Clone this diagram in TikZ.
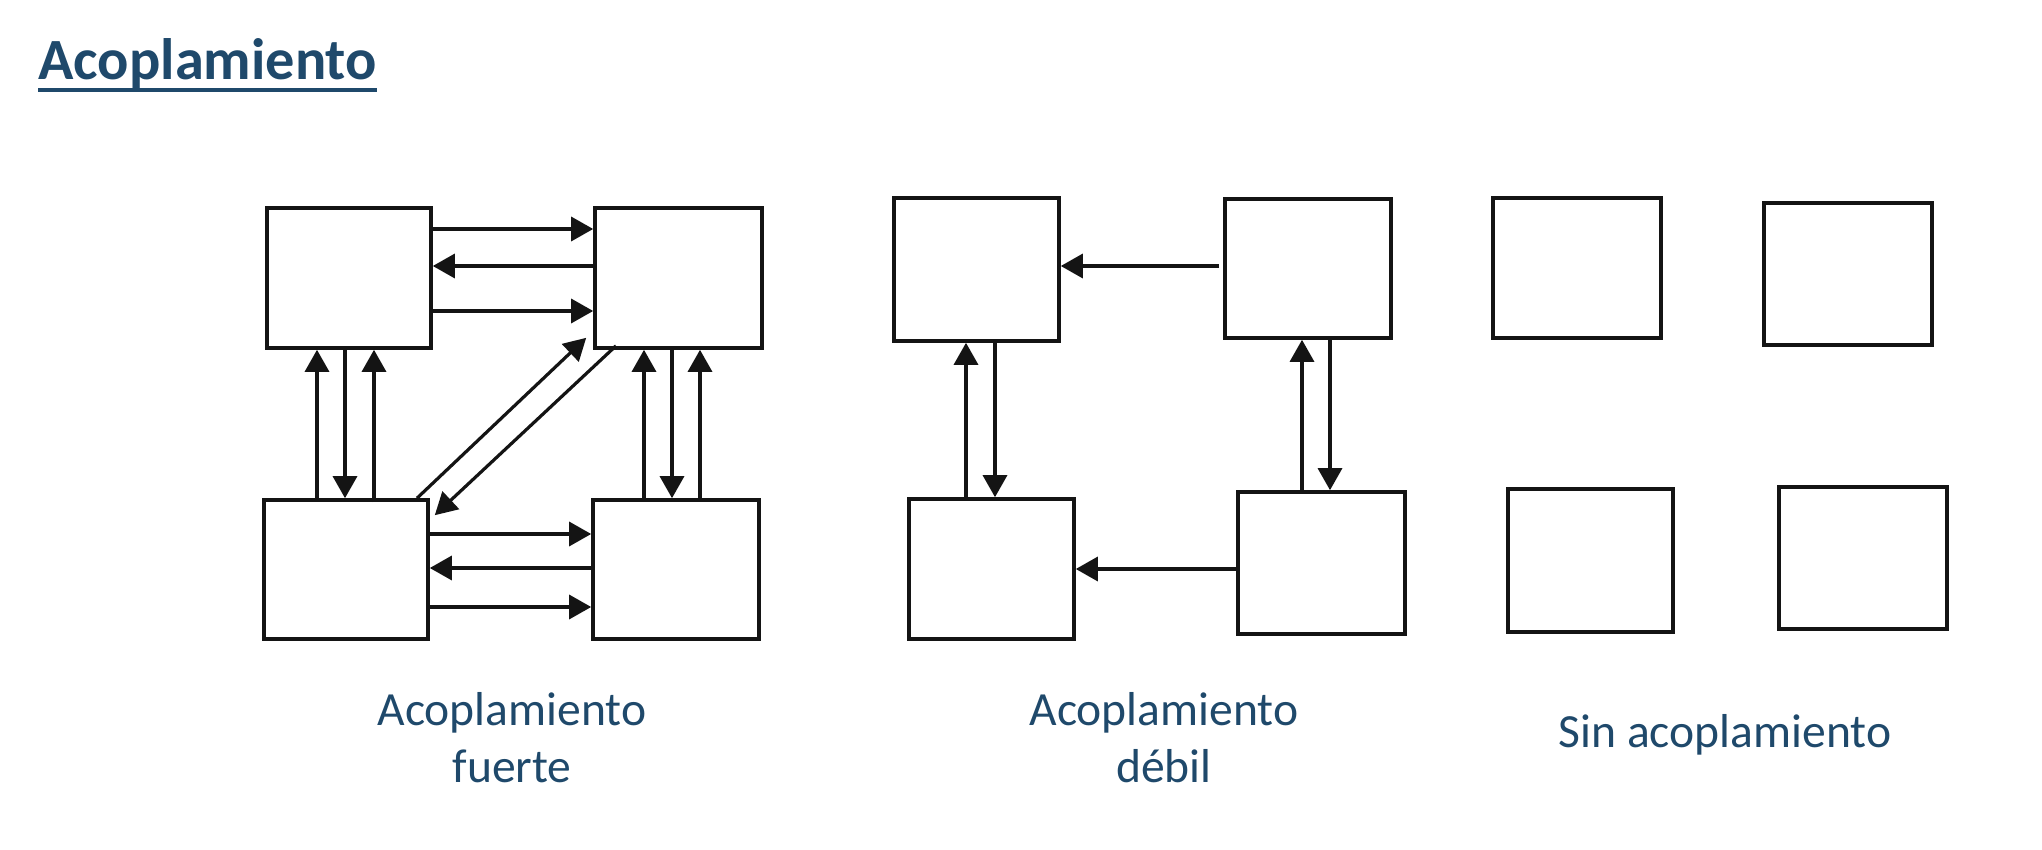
\documentclass[tikz,border=0pt]{standalone}
\usepackage{fontspec}
\setmainfont{Carlito}
\usetikzlibrary{arrows.meta}
\definecolor{titleblue}{RGB}{31,73,107}
\definecolor{linegray}{RGB}{20,20,20}
\begin{document}
\begin{tikzpicture}[x=0.5pt,y=-0.5pt,
  box/.style 2 args={draw=linegray, line width=1.8pt, inner sep=0pt,
    minimum width=#1*0.5pt, minimum height=#2*0.5pt},
  arr/.style={draw=linegray, line width=1.6pt, -{Triangle[length=11pt,width=12pt]}},
  ttl/.style={font=\fontsize{29.2}{35}\selectfont\bfseries, text=titleblue, inner sep=0pt},
  captxt/.style={font=\fontsize{23.8}{28.5}\selectfont, text=titleblue, inner sep=0pt, anchor=base}]
\useasboundingbox (0,0) rectangle (2042,850);
% title
\node[ttl, anchor=base west] (title) at (38,80) {Acoplamiento};
\draw[titleblue, line width=1.7pt] ([yshift=-5pt]title.base west) -- ([yshift=-5pt]title.base east);
% ---- strong coupling
\node[box={164}{140}] (a1) at (349,278) {};
\node[box={167}{140}] (b1) at (678.5,278) {};
\node[box={164}{139}] (c1) at (346,569.5) {};
\node[box={166}{139}] (d1) at (676,569.5) {};
\draw[arr] (a1.east |- 0,229) -- (b1.west |- 0,229);
\draw[arr] (b1.west |- 0,266) -- (a1.east |- 0,266);
\draw[arr] (a1.east |- 0,311) -- (b1.west |- 0,311);
\draw[arr] (c1.east |- 0,534) -- (d1.west |- 0,534);
\draw[arr] (d1.west |- 0,568) -- (c1.east |- 0,568);
\draw[arr] (c1.east |- 0,607) -- (d1.west |- 0,607);
\draw[arr] (c1.north -| 317,0) -- (a1.south -| 317,0);
\draw[arr] (a1.south -| 345,0) -- (c1.north -| 345,0);
\draw[arr] ([yshift=-2pt]c1.north -| 374,0) -- (a1.south -| 374,0);
\draw[arr] (d1.north -| 644,0) -- (b1.south -| 644,0);
\draw[arr] (b1.south -| 672,0) -- (d1.north -| 672,0);
\draw[arr] (d1.north -| 700,0) -- (b1.south -| 700,0);
\draw[arr] (c1.north -| 417,0) -- ([shift={(-7,-12)}]b1.south west);
\draw[arr] ([yshift=2pt]b1.south -| 616,0) -- ([shift={(5,17)}]c1.north east);
% ---- weak coupling
\node[box={165}{143}] (a2) at (976.5,269.5) {};
\node[box={166}{139}] (b2) at (1308,268.5) {};
\node[box={165}{140}] (c2) at (991.5,569) {};
\node[box={167}{142}] (d2) at (1321.5,563) {};
\draw[arr] ([xshift=-2pt]b2.west |- 0,266) -- (a2.east |- 0,266);
\draw[arr] (d2.west |- 0,569) -- (c2.east |- 0,569);
\draw[arr] (c2.north -| 966,0) -- (a2.south -| 966,0);
\draw[arr] (a2.south -| 995,0) -- (c2.north -| 995,0);
\draw[arr] (d2.north -| 1302,0) -- (b2.south -| 1302,0);
\draw[arr] (b2.south -| 1330,0) -- (d2.north -| 1330,0);
% ---- no coupling
\node[box={168}{140}] (a3) at (1577,268) {};
\node[box={168}{142}] (b3) at (1848,274) {};
\node[box={165}{143}] (c3) at (1590.5,560.5) {};
\node[box={168}{142}] (d3) at (1863,558) {};
% captions
\node[captxt] (l1a) at (512,725) {Acoplamiento};
\node[captxt] (l1b) at (512,782) {fuerte};
\node[captxt] (l2a) at (1164,725) {Acoplamiento};
\node[captxt] (l2b) at (1164,782) {débil};
\node[captxt] (l3) at (1725,747) {Sin acoplamiento};
\end{tikzpicture}
\end{document}
